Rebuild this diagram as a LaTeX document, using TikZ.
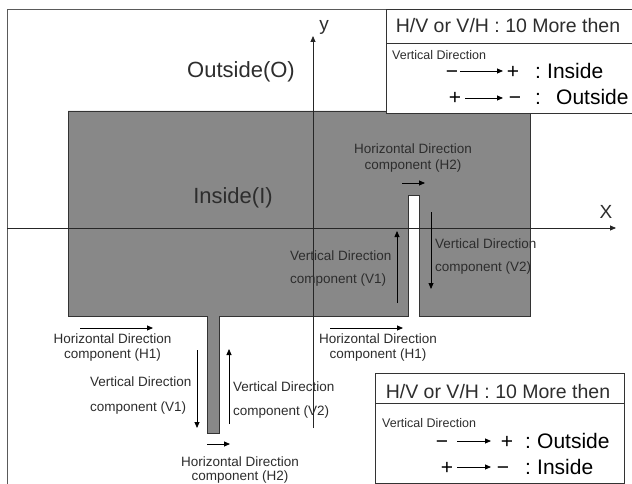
\documentclass[tikz,border=0pt]{standalone}
\usepackage{fontspec}
\setmainfont{Liberation Sans}
\usetikzlibrary{arrows.meta}
\definecolor{shapegray}{RGB}{136,136,136}
\definecolor{ink}{RGB}{45,45,45}
\definecolor{framegray}{RGB}{90,90,90}
\tikzset{
  lbl/.style={inner sep=0pt, text=ink, font=\fontsize{13.5}{15.5}\selectfont},
  big/.style={inner sep=0pt, text=ink, font=\fontsize{22}{24}\selectfont},
  hdr/.style={inner sep=0pt, text=ink, font=\fontsize{19.5}{22}\selectfont},
  sym/.style={inner sep=0pt, anchor=base, text=black, font=\fontsize{21}{23}\selectfont},
  arr/.style={-{Triangle[length=6pt,width=5pt]}, line width=0.8pt, draw=black},
  axis/.style={line width=0.8pt, draw=black!85},
  boxline/.style={line width=0.8pt, draw=black!80},
}
\begin{document}
\begin{tikzpicture}[x=1pt,y=-1pt]
\useasboundingbox (0,0) rectangle (632,484);
\fill[white] (0,0) rectangle (632,484);
% frame
\draw[framegray, line width=0.8pt] (7,490) -- (7,9) -- (640,9);
% gray shape
\filldraw[fill=shapegray, draw=black!80, line width=0.8pt]
  (68,111) -- (530,111) -- (530,316) -- (419,316) -- (419,195) -- (408,195) -- (408,316)
  -- (219,316) -- (219,433) -- (207,433) -- (207,316) -- (68,316) -- cycle;
% axes
\coordinate (xs) at (7,228);
\coordinate (xe) at (616,228);
\coordinate (ys) at (313,428);
\coordinate (ye) at (313,36);
\draw[axis, -{Triangle[length=6pt,width=5pt]}] (xs) -- (xe);
\draw[axis, -{Triangle[length=6pt,width=5pt]}] (ys) -- (ye);
\node[big, font=\fontsize{19}{21}\selectfont] (xl) at (606,212) {X};
\node[big, font=\fontsize{19}{21}\selectfont] (yl) at (324,27) {y};
% region labels
\node[big] (out) at (241,72) {Outside(O)};
\node[big] (ins) at (233,198) {Inside(I)};
% top slot labels and arrows
\node[lbl, align=center, font=\fontsize{13.5}{16}\selectfont] (h2t) at (413,158) {Horizontal Direction\\component (H2)};
\coordinate (h2ts) at (402,183); \coordinate (h2te) at (425,183);
\draw[arr] (h2ts) -- (h2te);
\node[lbl, align=left, anchor=west, font=\fontsize{13.5}{23}\selectfont] (v1t) at (290,268.5) {Vertical Direction\\component (V1)};
\coordinate (v1ts) at (397,303); \coordinate (v1te) at (397,231);
\draw[arr] (v1ts) -- (v1te);
\node[lbl, align=left, anchor=west, font=\fontsize{13.5}{23}\selectfont] (v2t) at (435,256.5) {Vertical Direction\\component (V2)};
\coordinate (v2ts) at (431,212); \coordinate (v2te) at (431,289);
\draw[arr] (v2ts) -- (v2te);
\node[lbl, align=center] (h1r) at (378,347.5) {Horizontal Direction\\component (H1)};
\coordinate (h1rs) at (330,328); \coordinate (h1re) at (403,328);
\draw[arr] (h1rs) -- (h1re);
% bottom stub labels and arrows
\node[lbl, align=center] (h1l) at (112.5,347.5) {Horizontal Direction\\component (H1)};
\coordinate (h1ls) at (80,328); \coordinate (h1le) at (153,328);
\draw[arr] (h1ls) -- (h1le);
\node[lbl, align=left, anchor=west, font=\fontsize{13.5}{25}\selectfont] (v1l) at (90,395.5) {Vertical Direction\\component (V1)};
\coordinate (v1ls) at (197,350); \coordinate (v1le) at (197,428);
\draw[arr] (v1ls) -- (v1le);
\node[lbl, align=left, anchor=west, font=\fontsize{13.5}{24}\selectfont] (v2l) at (233,400) {Vertical Direction\\component (V2)};
\coordinate (v2ls) at (229,424); \coordinate (v2le) at (229,349);
\draw[arr] (v2ls) -- (v2le);
\node[lbl, align=center, font=\fontsize{13.5}{14.5}\selectfont] (h2b) at (240,470) {Horizontal Direction\\component (H2)};
\coordinate (h2bs) at (207,444); \coordinate (h2be) at (230,444);
\draw[arr] (h2bs) -- (h2be);
% top-right box
\filldraw[boxline, fill=white] (386,9) rectangle (640,113);
\draw[boxline] (386,43) -- (632,43);
\node[hdr] (tbh) at (508,26) {H/V or V/H : 10 More then};
\node[lbl, anchor=west, font=\fontsize{12.5}{14}\selectfont] (tbv) at (392,55) {Vertical Direction};
\node[sym] (t1a) at (452,78.5) {−};
\coordinate (t1s) at (460,71); \coordinate (t1e) at (503,71);
\draw[arr] (t1s) -- (t1e);
\node[sym] (t1b) at (513,78.5) {+};
\node[sym] (t1c) at (538,78.5) {:};
\node[sym, anchor=base west] (t1d) at (547,78.5) {Inside};
\node[sym] (t2a) at (455,105) {+};
\coordinate (t2s) at (465,98); \coordinate (t2e) at (503,98);
\draw[arr] (t2s) -- (t2e);
\node[sym] (t2b) at (515,105) {−};
\node[sym] (t2c) at (538,105) {:};
\node[sym, anchor=base west] (t2d) at (556,105) {Outside};
% bottom-right box
\filldraw[boxline, fill=white] (375,373) rectangle (624,483);
\draw[boxline] (375,403) -- (624,403);
\node[hdr] (bbh) at (498,392) {H/V or V/H : 10 More then};
\node[lbl, anchor=west, font=\fontsize{12.5}{14}\selectfont] (bbv) at (382,423) {Vertical Direction};
\node[sym] (b1a) at (442,448.5) {−};
\coordinate (b1s) at (457,441); \coordinate (b1e) at (491,441);
\draw[arr] (b1s) -- (b1e);
\node[sym] (b1b) at (507,448.5) {+};
\node[sym] (b1c) at (528,448.5) {:};
\node[sym, anchor=base west] (b1d) at (537,448.5) {Outside};
\node[sym] (b2a) at (447,474.5) {+};
\coordinate (b2s) at (457,467); \coordinate (b2e) at (491,467);
\draw[arr] (b2s) -- (b2e);
\node[sym] (b2b) at (503,474.5) {−};
\node[sym] (b2c) at (528,474.5) {:};
\node[sym, anchor=base west] (b2d) at (537,474.5) {Inside};
\end{tikzpicture}
\end{document}
